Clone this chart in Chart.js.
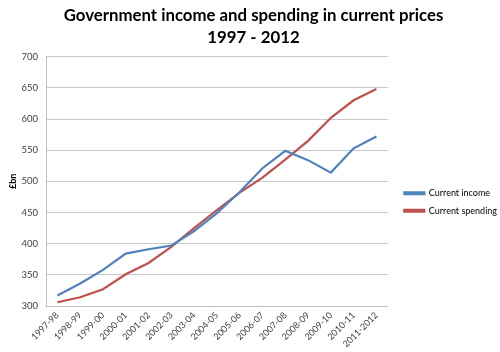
<!DOCTYPE html>
<html>
<head>
<meta charset="utf-8">
<script src="https://cdn.jsdelivr.net/npm/chart.js@4/dist/chart.umd.min.js"></script>
<style>
html,body{margin:0;padding:0;background:#fff;}
#wrap{width:500px;height:352px;}
</style>
</head>
<body>
<div id="wrap"><canvas id="c" width="500" height="352"></canvas></div>
<script>
const categories = ["1997-98","1998-99","1999-00","2000-01","2001-02","2002-03","2003-04","2004-05","2005-06","2006-07","2007-08","2008-09","2009-10","2010-11","2011-2012"];
const incomeValues = [317, 336, 358, 384, 391, 397, 420, 449, 483, 521, 549, 534, 514, 553, 572];
const spendingValues = [306, 314, 327, 351, 369, 395, 425, 454, 482, 506, 535, 565, 602, 630, 648];
const yMin = 300, yMax = 700, yStep = 50;
const titleLines = ["Government income and spending in current prices", "1997 - 2012"];

const FONT = "Lato, 'Open Sans', sans-serif";

const legendShift = {
  id: 'legendShift',
  afterLayout(chart) {
    const lg = chart.legend;
    if (!lg) return;
    const dx = 8, dy = 26;
    lg.left += dx; lg.right += dx;
    lg.top += dy; lg.bottom += dy;
  }
};

new Chart(document.getElementById('c'), {
  type: 'line',
  data: {
    labels: categories,
    datasets: [
      {label: 'Current income', data: incomeValues, borderColor: '#4f81bd', backgroundColor: '#4f81bd', borderWidth: 2.2, pointRadius: 0, tension: 0},
      {label: 'Current spending', data: spendingValues, borderColor: '#c0504d', backgroundColor: '#c0504d', borderWidth: 2.2, pointRadius: 0, tension: 0}
    ]
  },
  plugins: [legendShift],
  options: {
    responsive: false,
    animation: false,
    devicePixelRatio: 1,
    layout: {padding: {left: 8, right: 1, top: 0, bottom: 0}},
    plugins: {
      title: {display: true, text: titleLines, color: '#000', font: {family: FONT, size: 16.8, weight: 'bold', lineHeight: 1.3}, padding: {top: 5, bottom: 8}},
      legend: {
        position: 'right',
        maxWidth: 112,
        labels: {color: '#000', font: {family: FONT, size: 9}, boxWidth: 20, boxHeight: 2, padding: 8.5}
      },
      tooltip: {enabled: false}
    },
    scales: {
      x: {
        offset: true,
        grid: {display: false, drawTicks: false},
        border: {color: '#bfbfbf', width: 1},
        ticks: {color: '#404040', font: {family: FONT, size: 9}, minRotation: 45, maxRotation: 45, padding: 4, autoSkip: false},
        afterFit: s => { s.height = 46; }
      },
      y: {
        min: yMin, max: yMax,
        grid: {color: '#c8c8c8', lineWidth: 1, drawTicks: false},
        border: {color: '#bfbfbf', width: 1},
        ticks: {stepSize: yStep, color: '#404040', font: {family: FONT, size: 9.5}, padding: 8},
        title: {display: true, text: '£bn', color: '#000', font: {family: FONT, size: 9, weight: 'bold'}, padding: {top: 0, bottom: 0}},
        afterFit: s => { s.width = 38; }
      }
    }
  }
});
</script>
</body>
</html>
